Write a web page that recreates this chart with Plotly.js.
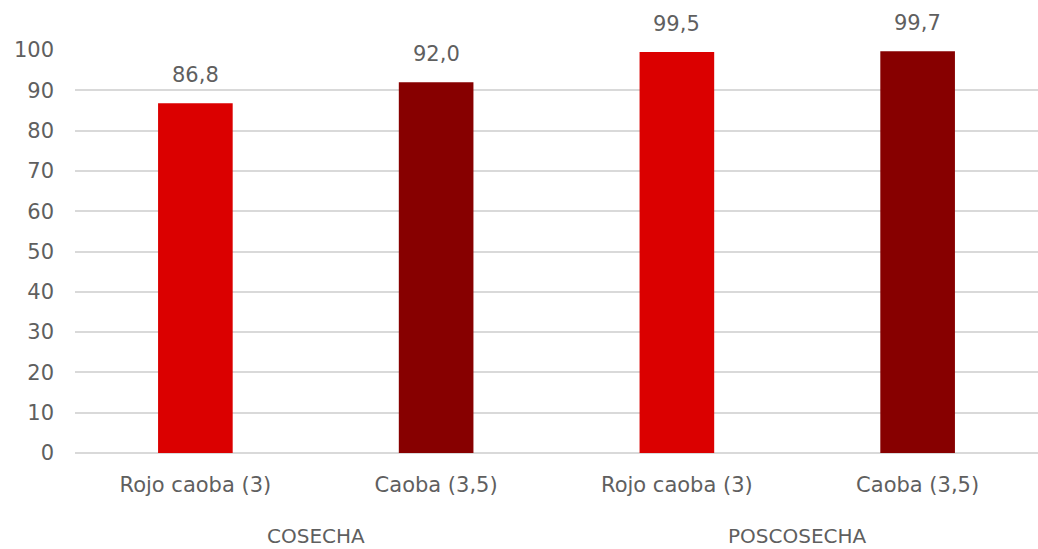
<!DOCTYPE html>
<html>
<head>
<meta charset="utf-8">
<script src="https://cdn.plot.ly/plotly-3.0.1.min.js"></script>
<style>html,body{margin:0;padding:0;background:#fff;}#chart{width:1038px;height:549px;}</style>
</head>
<body>
<div id="chart"></div>
<script>
const groups = ["COSECHA", "COSECHA", "POSCOSECHA", "POSCOSECHA"];
const varieties = ["Rojo caoba (3)", "Caoba (3,5)", "Rojo caoba (3)", "Caoba (3,5)"];
const values = [86.8, 92.0, 99.5, 99.7];
const barColors = ["#DB0000", "#870000", "#DB0000", "#870000"];
const yTicks = [0, 10, 20, 30, 40, 50, 60, 70, 80, 90, 100];

const FONT = "'DejaVu Sans', Verdana, sans-serif";
const GREY = "#5f5f5f";
const idx = values.map((_, i) => i);

const trace = {
  type: "bar",
  x: idx,
  y: values,
  marker: {color: barColors, line: {width: 0}},
  width: 0.31,
  hoverinfo: "skip"
};

const labelAnnotations = values.map((v, i) => ({
  xref: "x", yref: "y",
  x: i, y: v,
  text: v.toFixed(1).replace(".", ","),
  showarrow: false,
  yanchor: "middle",
  yshift: 28,
  font: {family: FONT, size: 21, color: GREY}
}));

const uniqueGroups = [...new Set(groups)];
const groupAnnotations = uniqueGroups.map(g => {
  const members = idx.filter(i => groups[i] === g);
  const center = members.reduce((a, b) => a + b, 0) / members.length;
  return {
    xref: "x", yref: "paper",
    x: center, y: 0,
    text: g,
    showarrow: false,
    yanchor: "middle",
    yshift: -83,
    font: {family: FONT, size: 20, color: GREY}
  };
});

const layout = {
  width: 1038, height: 549,
  margin: {l: 75, r: 0, t: 50, b: 96},
  separators: ",.",
  paper_bgcolor: "#fff",
  plot_bgcolor: "#fff",
  showlegend: false,
  font: {family: FONT, size: 21, color: GREY},
  xaxis: {
    type: "linear",
    range: [-0.5, idx.length - 0.5],
    tickvals: idx,
    ticktext: varieties,
    showgrid: false,
    showline: false,
    zeroline: false,
    ticks: "",
    ticklabelstandoff: 17,
    tickfont: {family: FONT, size: 21, color: GREY}
  },
  yaxis: {
    range: [0, 100],
    tickvals: yTicks,
    ticktext: yTicks.map(String),
    showgrid: true,
    gridcolor: "#D9D9D9",
    gridwidth: 2,
    zeroline: true,
    zerolinecolor: "#D9D9D9",
    zerolinewidth: 2,
    showline: false,
    ticks: "",
    ticklabelstandoff: 20,
    tickfont: {family: FONT, size: 21, color: GREY}
  },
  annotations: labelAnnotations.concat(groupAnnotations)
};

Plotly.newPlot("chart", [trace], layout, {displayModeBar: false, staticPlot: true});
</script>
</body>
</html>
